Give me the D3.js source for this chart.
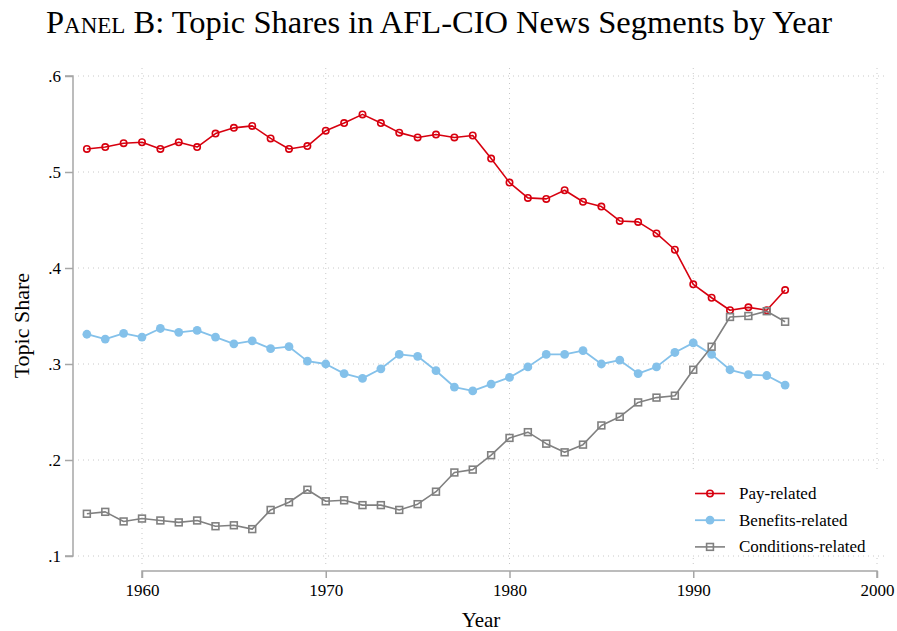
<!DOCTYPE html>
<html>
<head>
<meta charset="utf-8">
<script src="https://cdn.jsdelivr.net/npm/d3@7"></script>
<style>
  body { margin: 0; background: #fff; }
  svg { display: block; font-family: "Liberation Serif", "DejaVu Serif", serif; }
</style>
</head>
<body>
<script>
let years = d3.range(1957, 1996)

let pay = [.524, .526, .530, .531, .524, .531, .526, .540, .546, .548,
  .535, .524, .527, .543, .551, .560, .551, .541, .536, .539,
  .536, .538, .514, .489, .473, .472, .481, .469, .464, .449,
  .448, .436, .419, .383, .369, .356, .359, .356, .377]

let benefits = [.331, .326, .332, .328, .337, .333, .335, .328, .321, .324,
  .316, .318, .303, .300, .290, .285, .295, .310, .308, .293,
  .276, .272, .279, .286, .297, .310, .310, .314, .300, .304,
  .290, .297, .312, .322, .310, .294, .289, .288, .278]

let conditions = [.144, .146, .136, .139, .137, .135, .137, .131, .132, .128,
  .148, .156, .169, .157, .158, .153, .153, .148, .154, .167,
  .187, .190, .205, .223, .229, .217, .208, .216, .236, .245,
  .260, .265, .267, .294, .318, .349, .350, .355, .344]

let seriesNames = ['Pay-related', 'Benefits-related', 'Conditions-related']
let xTicks = [1960, 1970, 1980, 1990, 2000]
let yTicks = [.1, .2, .3, .4, .5, .6]

let width = 897
let height = 631

let x = d3.scaleLinear().domain([1960, 2000]).range([142, 877])
let y = d3.scaleLinear().domain([.1, .6]).range([556, 76])

let axisColor = '#a6a6a6'
let gridColor = '#c8c8c8'

const svg = d3.select('body').append('svg')
    .attr('width', width)
    .attr('height', height)

// title
let title = svg.append('text')
    .attr('x', 439)
    .attr('y', 33)
    .attr('text-anchor', 'middle')
    .style('font-size', '32.5px')
title.append('tspan').style('font-variant', 'small-caps').text('Panel')
title.append('tspan').text(' B: Topic Shares in AFL-CIO News Segments by Year')

// grid
let grid = svg.append('g')
    .attr('stroke', gridColor)
    .attr('stroke-width', 1)
    .attr('stroke-dasharray', '1 4')

grid.selectAll('line.h')
  .data(yTicks)
  .join('line')
    .attr('class', 'h')
    .attr('x1', 78)
    .attr('x2', 888)
    .attr('y1', d => y(d))
    .attr('y2', d => y(d))

grid.selectAll('line.v')
  .data(xTicks)
  .join('line')
    .attr('class', 'v')
    .attr('x1', d => x(d))
    .attr('x2', d => x(d))
    .attr('y1', 68)
    .attr('y2', 566)

// axes
let yAxis = g => g
    .attr('transform', 'translate(73,0)')
    .call(d3.axisLeft(y).tickValues(yTicks).tickSize(8).tickPadding(4)
      .tickFormat(d => d3.format('.1f')(d).replace(/^0/, '')))
    .call(g => g.selectAll('.domain, line').attr('stroke', axisColor).attr('stroke-width', 1.5))
    .call(g => g.select('.domain').attr('d', `M-8,${y(.6)}H0V${y(.1)}H-8`))
    .call(g => g.selectAll('text').attr('fill', '#000').style('font-size', '17px')
      .style('font-family', '"Liberation Serif", serif'))

let xAxis = g => g
    .attr('transform', 'translate(0,571)')
    .call(d3.axisBottom(x).tickValues(xTicks).tickSize(7).tickPadding(6).tickFormat(d3.format('d')))
    .call(g => g.selectAll('.domain, line').attr('stroke', axisColor).attr('stroke-width', 1.5))
    .call(g => g.select('.domain').attr('d', `M${x(1960)},7V0H${x(2000)}V7`))
    .call(g => g.selectAll('text').attr('fill', '#000').style('font-size', '17px')
      .style('font-family', '"Liberation Serif", serif'))

svg.append('g').call(yAxis)
svg.append('g').call(xAxis)

svg.append('text')
    .attr('transform', 'rotate(-90)')
    .attr('x', -y(.34))
    .attr('y', 29)
    .attr('text-anchor', 'middle')
    .style('font-size', '22px')
    .text('Topic Share')

svg.append('text')
    .attr('x', 481)
    .attr('y', 627)
    .attr('text-anchor', 'middle')
    .style('font-size', '21px')
    .text('Year')

// series
let series = [
  { name: seriesNames[0], values: pay, color: '#d7000f', width: 1.6, marker: 'ocircle' },
  { name: seriesNames[1], values: benefits, color: '#84c1ea', width: 1.8, marker: 'circle' },
  { name: seriesNames[2], values: conditions, color: '#808080', width: 1.6, marker: 'osquare' }
]

let line = d3.line()
    .x((d, i) => x(years[i]))
    .y(d => y(d))

function drawMarker(g, type, color) {
  if (type === 'ocircle') {
    g.append('circle').attr('r', 3.2).attr('fill', 'none')
      .attr('stroke', color).attr('stroke-width', 1.6)
  } else if (type === 'circle') {
    g.append('circle').attr('r', 4.4).attr('fill', color)
  } else {
    g.append('rect').attr('x', -3.4).attr('y', -3.4).attr('width', 6.8).attr('height', 6.8)
      .attr('fill', 'none').attr('stroke', color).attr('stroke-width', 1.6)
  }
}

for (let s of series) {
  let g = svg.append('g')
  g.append('path')
      .attr('d', line(s.values))
      .attr('fill', 'none')
      .attr('stroke', s.color)
      .attr('stroke-width', s.width)
      .attr('stroke-linejoin', 'round')

  g.selectAll('g.pt')
    .data(s.values)
    .join('g')
      .attr('class', 'pt')
      .attr('transform', (d, i) => `translate(${x(years[i])},${y(d)})`)
      .each(function () { drawMarker(d3.select(this), s.marker, s.color) })
}

// legend
let legend = svg.append('g')
legend.append('rect')
    .attr('x', 686)
    .attr('y', 472)
    .attr('width', 198)
    .attr('height', 82)
    .attr('fill', '#fff')

series.forEach((s, i) => {
  let ly = 493.5 + i * 26.7
  let item = legend.append('g')
  item.append('line')
      .attr('x1', 695).attr('x2', 725)
      .attr('y1', ly).attr('y2', ly)
      .attr('stroke', s.color)
      .attr('stroke-width', s.width)
  let m = item.append('g').attr('transform', `translate(710,${ly})`)
  drawMarker(m, s.marker, s.color)
  item.append('text')
      .attr('x', 739)
      .attr('y', ly + 5.5)
      .style('font-size', '17px')
      .text(s.name)
})
</script>
</body>
</html>
